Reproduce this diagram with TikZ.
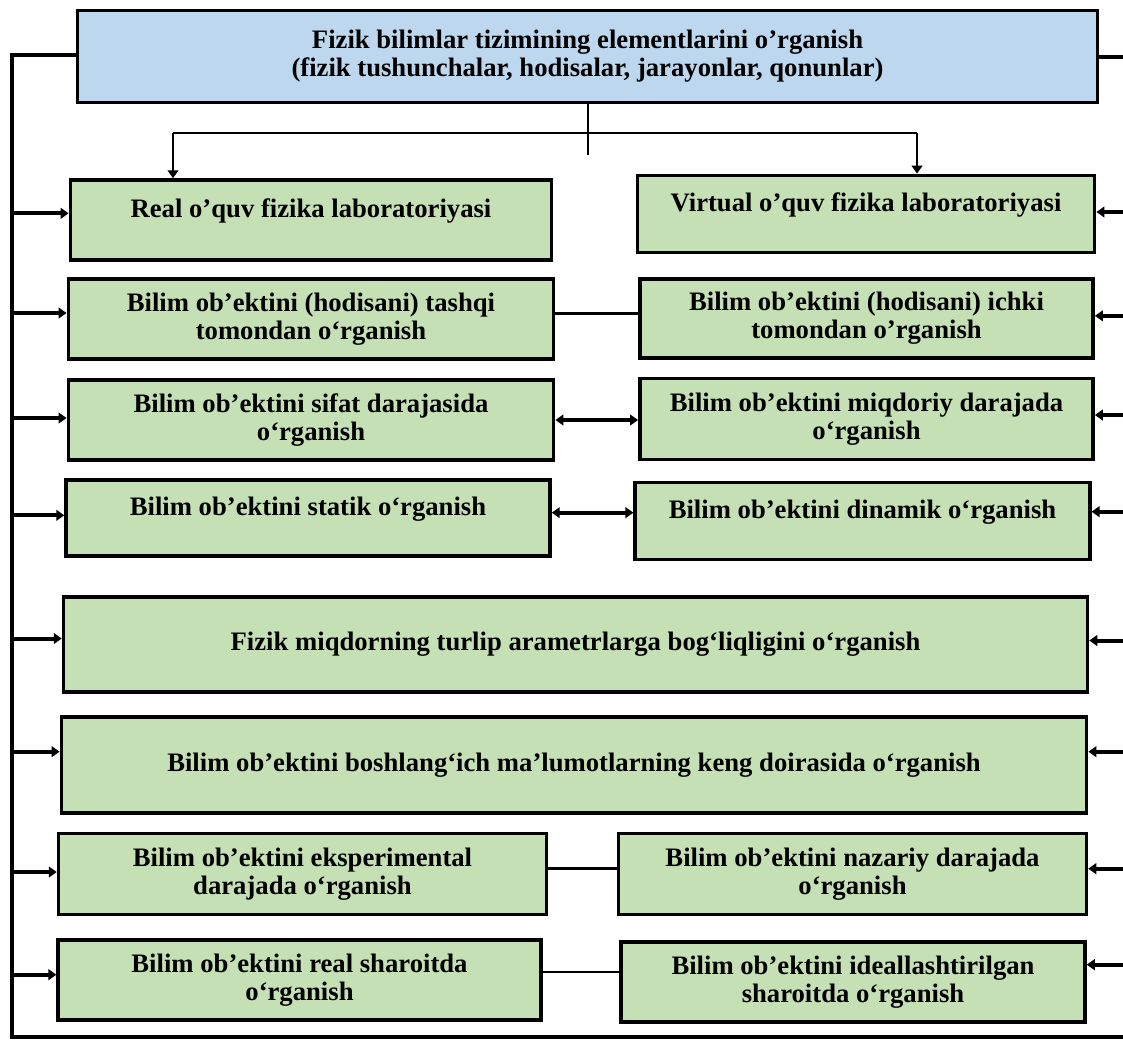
\documentclass[tikz,border=0pt]{standalone}
\usepackage{fontspec}
\setmainfont{Liberation Serif}
\usetikzlibrary{
    arrows.meta,
    positioning
}
\definecolor{HeadBlue}{RGB}{189,215,238}
\definecolor{LabGreen}{RGB}{197,224,180}
\tikzset{
  box/.style   = {draw, line width=2.6pt, fill=LabGreen, align=center,
                  inner sep=2pt, font=\bfseries\fontsize{20}{21}\selectfont},
  head/.style  = {box, fill=HeadBlue},
  upper/.style = {text depth=18pt},
  trunk/.style = {line width=3.6pt, line cap=rect},
  arr/.style   = {-{Triangle[length=6pt,width=8pt]}, line width=3pt},
  darr/.style  = {{Triangle[length=6pt,width=8pt]}-{Triangle[length=6pt,width=8pt]},
                  line width=3pt},
  link/.style  = {line width=1.8pt}
}

\begin{document}
\begin{tikzpicture}[x=0.75pt, y=-0.75pt]
\useasboundingbox (0,0) rectangle (1123,1040);

\node[head, minimum width=765pt, minimum height=69pt] (top) at (587.5,56.5)
    {Fizik bilimlar tizimining elementlarini o'rganish\\
     (fizik tushunchalar, hodisalar, jarayonlar, qonunlar)};

\node[box, upper, minimum width=361pt, minimum height=60pt] (r1L) at (311,220)
    {Real o'quv fizika laboratoriyasi};
\node[box, upper, minimum width=343pt, minimum height=58pt] (r1R) at (866,214)
    {Virtual o'quv fizika laboratoriyasi};
\node[box, minimum width=364pt, minimum height=60pt] (r2L) at (311,319)
    {Bilim ob’ektini (hodisani) tashqi\\ tomondan o‘rganish};
\node[box, minimum width=340pt, minimum height=59pt] (r2R) at (866.5,318.5)
    {Bilim ob'ektini (hodisani) ichki\\ tomondan o'rganish};
\node[box, minimum width=364pt, minimum height=60pt] (r3L) at (311,420)
    {Bilim ob’ektini sifat darajasida\\ o‘rganish};
\node[box, minimum width=340pt, minimum height=61pt] (r3R) at (866.5,419)
    {Bilim ob’ektini miqdoriy darajada\\ o‘rganish};
\node[box, upper, minimum width=363pt, minimum height=57pt] (r4L) at (308,518)
    {Bilim ob’ektini statik o‘rganish};
\node[box, upper, minimum width=341pt, minimum height=58pt] (r4R) at (862.5,521)
    {Bilim ob’ektini dinamik o‘rganish};
\node[box, minimum width=768pt, minimum height=71pt] (r5) at (575.5,644.5)
    {Fizik miqdorning turlip arametrlarga bog‘liqligini o‘rganish};
\node[box, minimum width=769pt, minimum height=72pt] (r6) at (574,765)
    {Bilim ob’ektini boshlang‘ich ma’lumotlarning keng doirasida o‘rganish};
\node[box, minimum width=366pt, minimum height=61pt] (r7L) at (302.5,874)
    {Bilim ob’ektini eksperimental\\ darajada o‘rganish};
\node[box, minimum width=351pt, minimum height=61pt] (r7R) at (852.5,874)
    {Bilim ob’ektini nazariy darajada\\ o‘rganish};
\node[box, minimum width=362pt, minimum height=60pt] (r8L) at (299.5,980)
    {Bilim ob’ektini real sharoitda\\ o‘rganish};
\node[box, minimum width=348pt, minimum height=60pt] (r8R) at (853,982)
    {Bilim ob’ektini ideallashtirilgan\\ sharoitda o‘rganish};

% frame lines
\coordinate (tl) at (12,55);
\coordinate (bl) at (12,1037);
\coordinate (br) at (1123,1037);
\coordinate (tr) at (1123,57);
\draw[trunk] (top.west |- tl) -- (tl) -- (bl);
\draw[line width=2.4pt] (bl) -- (br);
\draw[trunk] (top.east |- tr) -- (tr);

% split under the title
\coordinate (split) at (588,155);
\coordinate (fanL) at (173,133);
\coordinate (fanR) at (917,133);
\draw[link] (top.south -| split) -- (split);
\draw[link] (fanL) -- (fanR);
\draw[arr, line width=2pt] (fanL) -- (fanL |- r1L.north);
\draw[arr, line width=2pt] (fanR) -- (fanR |- r1R.north);

% arrows from the sides
\foreach \b/\s in {r1L/5, r2L/4.5, r3L/1.5, r4L/2, r5/4.5, r6/10, r7L/1.5, r8L/4}
  \draw[arr] ([yshift=\s pt]\b.west -| tl) -- ([yshift=\s pt]\b.west);
\foreach \b/\s in {r1R/1.5, r2R/2, r3R/3, r4R/7, r5/3, r6/10, r7R/4, r8R/13}
  \draw[arr] ([yshift=\s pt]\b.east -| tr) -- ([yshift=\s pt]\b.east);

% links between pairs
\draw[link] ([yshift=4pt]r2L.east) -- ([yshift=4pt]r2L.east -| r2R.west);
\draw[darr] (r3L.east) -- (r3L.east -| r3R.west);
\draw[darr] ([yshift=4pt]r4L.east) -- ([yshift=4pt]r4L.east -| r4R.west);
\draw[link] ([yshift=4pt]r7L.east) -- ([yshift=4pt]r7L.east -| r7R.west);
\draw[link] ([yshift=6pt]r8L.east) -- ([yshift=6pt]r8L.east -| r8R.west);
\end{tikzpicture}
\end{document}
